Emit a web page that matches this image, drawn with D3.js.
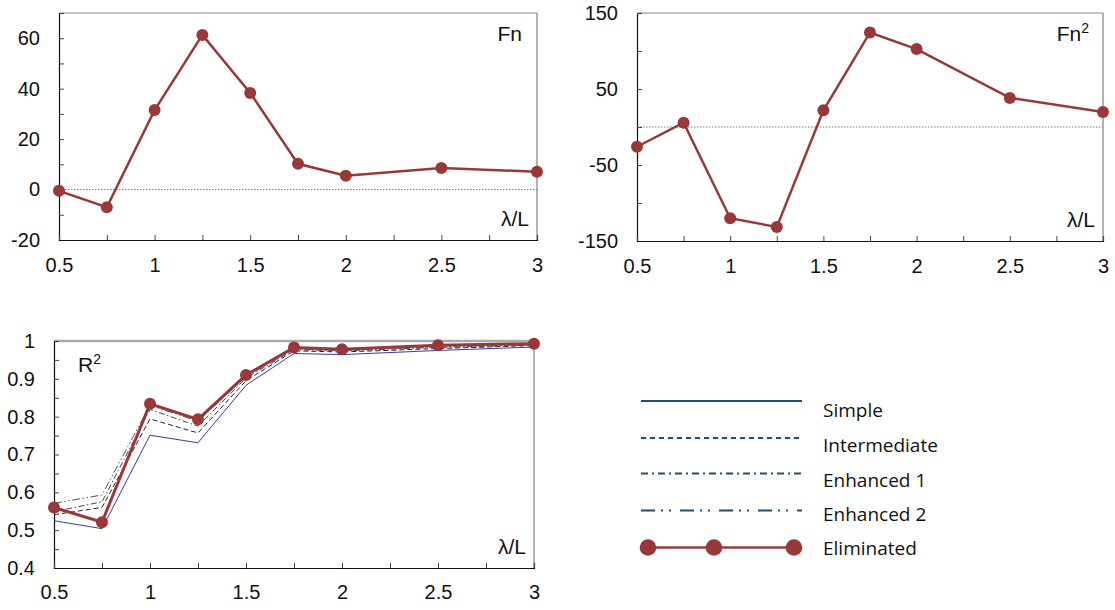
<!DOCTYPE html>
<html>
<head>
<meta charset="utf-8">
<script src="https://cdn.jsdelivr.net/npm/d3@7"></script>
<style>
  html, body { margin: 0; padding: 0; background: #fff; }
  svg { display: block; }
</style>
</head>
<body>
<svg id="chart" width="1115" height="610"></svg>
<script>
// ---- data ----
const lambdaL = [0.5, 0.75, 1, 1.25, 1.5, 1.75, 2, 2.5, 3];
const xTickLabels = [0.5, 1, 1.5, 2, 2.5, 3];

const fnValues  = [-0.5, -7, 31.5, 61.3, 38.3, 10.2, 5.5, 8.5, 7.1];
const fn2Values = [-26, 5.7, -120, -131.5, 22, 124.4, 102.5, 38.3, 19.8];

const r2Simple       = [0.525, 0.504, 0.751, 0.731, 0.883, 0.967, 0.964, 0.975, 0.984];
const r2Intermediate = [0.541, 0.560, 0.794, 0.757, 0.895, 0.974, 0.971, 0.980, 0.988];
const r2Enhanced1    = [0.549, 0.575, 0.819, 0.775, 0.902, 0.977, 0.974, 0.983, 0.989];
const r2Enhanced2    = [0.571, 0.593, 0.830, 0.788, 0.906, 0.979, 0.975, 0.985, 0.990];
const r2Eliminated   = [0.560, 0.521, 0.834, 0.793, 0.910, 0.983, 0.978, 0.989, 0.993];

const fnTicks  = [-20, -10, 0, 10, 20, 30, 40, 50, 60, 70];
const fnLabels = [-20, 0, 20, 40, 60];
const fn2Ticks  = [-150, -100, -50, 0, 50, 100, 150];
const fn2Labels = [-150, -50, 50, 150];
const r2Ticks  = [0.4, 0.45, 0.5, 0.55, 0.6, 0.65, 0.7, 0.75, 0.8, 0.85, 0.9, 0.95, 1];
const r2Labels = [0.4, 0.5, 0.6, 0.7, 0.8, 0.9, 1];
const xMinorTicks = [0.5, 0.75, 1, 1.25, 1.5, 1.75, 2, 2.25, 2.5, 2.75, 3];

const legendNames = ["Simple", "Intermediate", "Enhanced 1", "Enhanced 2", "Eliminated"];

// ---- styles ----
const RED = "#983838";
const NAVY = "#1f4e79";
const AX_FONT = "'Liberation Sans', Arial, Helvetica, sans-serif";

const svg = d3.select("#chart");

function panel(opt) {
  const g = svg.append("g");
  const x = d3.scaleLinear().domain([0.5, 3]).range([opt.left, opt.right]);
  const y = d3.scaleLinear().domain(opt.yDomain).range([opt.bottom, opt.top]);

  g.append("line").attr("x1", opt.left).attr("x2", opt.right).attr("y1", opt.top).attr("y2", opt.top)
    .attr("stroke", opt.topColor || "#888").attr("stroke-width", opt.topWidth || 1);
  g.append("line").attr("x1", opt.right).attr("x2", opt.right).attr("y1", opt.top).attr("y2", opt.bottom)
    .attr("stroke", "#666").attr("stroke-width", 1);

  if (opt.zero) {
    g.append("line").attr("x1", opt.left).attr("x2", opt.right)
      .attr("y1", y(0)).attr("y2", y(0))
      .attr("stroke", "#777").attr("stroke-width", 1).attr("stroke-dasharray", "1.5,1.5");
  }

  const fmt = d => String(d);
  const yAxis = d3.axisLeft(y).tickValues(opt.yTicks).tickSize(-5).tickPadding(opt.yPad)
    .tickFormat(d => opt.yLabels.some(v => Math.abs(v - d) < 1e-9) ? fmt(d) : "");
  const ya = g.append("g").attr("transform", `translate(${opt.left},0)`).call(yAxis);

  const xAxis = d3.axisBottom(x).tickValues(xMinorTicks).tickSize(-5).tickPadding(opt.xPad)
    .tickFormat(d => xTickLabels.some(v => Math.abs(v - d) < 1e-9) ? fmt(d) : "");
  const xa = g.append("g").attr("transform", `translate(0,${opt.bottom})`).call(xAxis);

  [ya, xa].forEach(a => {
    a.attr("font-family", null).attr("font-size", null);
    a.select(".domain").attr("stroke", "#111").attr("stroke-width", 1.2);
    a.selectAll(".tick line").attr("stroke", "#444");
    a.selectAll(".tick text").style("font-family", AX_FONT).style("font-size", "20px").attr("fill", "#111");
  });

  g.append("text").attr("x", opt.right - 8).attr("y", opt.bottom - 14)
    .attr("text-anchor", "end")
    .style("font-family", AX_FONT).style("font-size", "21px").attr("fill", "#111")
    .text("λ/L");

  return {g, x, y};
}

function eliminatedSeries(p, vals, width) {
  const line = d3.line().x((d, i) => p.x(lambdaL[i])).y(d => p.y(d));
  p.g.append("path").datum(vals).attr("d", line).attr("fill", "none")
    .attr("stroke", RED).attr("stroke-width", width);
  p.g.selectAll("circle.pt").data(vals).join("circle").attr("class", "pt")
    .attr("cx", (d, i) => p.x(lambdaL[i])).attr("cy", d => p.y(d)).attr("r", 6)
    .attr("fill", RED);
}

// Panel 1: Fn
const p1 = panel({left: 59, right: 537, top: 13, bottom: 240, yDomain: [-20, 70],
  yTicks: fnTicks, yLabels: fnLabels, yPad: 19, xPad: 18, zero: true});
p1.g.append("text").attr("x", 522).attr("y", 41).attr("text-anchor", "end")
  .style("font-family", AX_FONT).style("font-size", "21px").attr("fill", "#111").text("Fn");
eliminatedSeries(p1, fnValues, 2.5);

// Panel 2: Fn²
const p2 = panel({left: 637, right: 1103, top: 13, bottom: 241, yDomain: [-150, 150],
  yTicks: fn2Ticks, yLabels: fn2Labels, yPad: 19, xPad: 18, zero: true});
const t2 = p2.g.append("text").attr("x", 1089).attr("y", 41).attr("text-anchor", "end")
  .style("font-family", AX_FONT).style("font-size", "21px").attr("fill", "#111");
t2.append("tspan").text("Fn");
t2.append("tspan").attr("dy", -8).style("font-size", "14px").text("2");
eliminatedSeries(p2, fn2Values, 2.5);

// Panel 3: R²
const p3 = panel({left: 54, right: 534, top: 341, bottom: 568, yDomain: [0.4, 1],
  yTicks: r2Ticks, yLabels: r2Labels, yPad: 19, xPad: 17, zero: false,
  topColor: "#aaa", topWidth: 2.5});
const t3 = p3.g.append("text").attr("x", 78).attr("y", 372)
  .style("font-family", AX_FONT).style("font-size", "21px").attr("fill", "#111");
t3.append("tspan").text("R");
t3.append("tspan").attr("dy", -8).style("font-size", "14px").text("2");

const r2Series = [
  {vals: r2Simple, color: "#3a3aa8", dash: null, w: 1},
  {vals: r2Intermediate, color: "#222", dash: "5,3", w: 1},
  {vals: r2Enhanced1, color: "#444", dash: "6,2.5,1.5,2.5", w: 1},
  {vals: r2Enhanced2, color: "#555", dash: "8,2.5,1.5,2.5,1.5,2.5", w: 1}
];
const r2Line = d3.line().x((d, i) => p3.x(lambdaL[i])).y(d => p3.y(d));
r2Series.forEach(s => {
  p3.g.append("path").datum(s.vals).attr("d", r2Line).attr("fill", "none")
    .attr("stroke", s.color).attr("stroke-width", s.w)
    .attr("stroke-dasharray", s.dash);
});
eliminatedSeries(p3, r2Eliminated, 3);

// Legend
const legendDash = [null, "5,4", "7,4,2,4", "14,6,2,6,2,9"];
const lineX1 = 641, lineX2 = 802;
const lineYs = [401, 438, 473.5, 510.5, 547.5];
const textYs = [410, 445, 480, 514, 548];
const leg = svg.append("g");
legendNames.forEach((name, i) => {
  if (i < 4) {
    leg.append("line").attr("x1", lineX1).attr("x2", lineX2)
      .attr("y1", lineYs[i]).attr("y2", lineYs[i])
      .attr("stroke", NAVY).attr("stroke-width", 2)
      .attr("stroke-dasharray", legendDash[i]);
  } else {
    leg.append("line").attr("x1", 648).attr("x2", 794)
      .attr("y1", lineYs[i]).attr("y2", lineYs[i])
      .attr("stroke", RED).attr("stroke-width", 2.5);
    [648, 714, 794].forEach(cx => {
      leg.append("circle").attr("cx", cx).attr("cy", lineYs[i]).attr("r", 8.3).attr("fill", RED);
    });
  }
  leg.append("text").attr("x", 823).attr("y", textYs[i]).attr("dy", "0.35em")
    .style("font-family", "'Open Sans', Lato, sans-serif").style("font-size", "19px")
    .attr("fill", "#111").text(name);
});
</script>
</body>
</html>
